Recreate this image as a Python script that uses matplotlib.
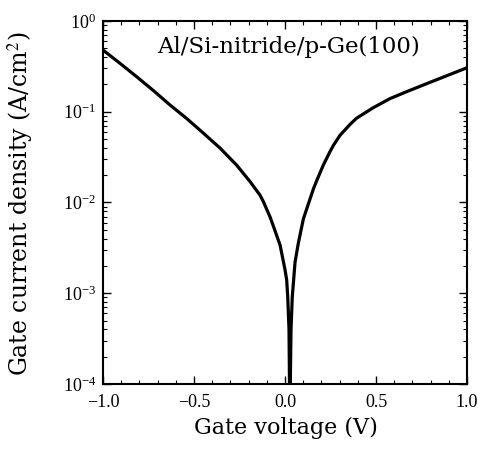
import matplotlib
matplotlib.use("Agg")
import matplotlib.pyplot as plt
import numpy as np
from matplotlib.ticker import LogLocator, MultipleLocator

# Gate voltage (V) and log10 of gate current density (A/cm^2)
v_neg = [-1.0, -0.907, -0.815, -0.724, -0.632, -0.540, -0.449, -0.357, -0.265,
         -0.192, -0.137, -0.119, -0.082, -0.064, -0.027, 0.0, 0.009, 0.015, 0.022, 0.026]
logj_neg = [-0.32, -0.466, -0.614, -0.765, -0.925, -1.075, -1.235, -1.40, -1.59,
            -1.77, -1.92, -1.99, -2.16, -2.26, -2.47, -2.74, -2.85, -3.04, -3.40, -4.3]
v_pos = [0.027, 0.033, 0.040, 0.055, 0.073, 0.101, 0.156, 0.174, 0.210,
         0.247, 0.266, 0.302, 0.357, 0.394, 0.485, 0.577, 0.668, 0.760, 0.852, 1.0]
logj_pos = [-4.3, -3.40, -3.04, -2.66, -2.45, -2.18, -1.85, -1.76, -1.59,
            -1.44, -1.37, -1.26, -1.14, -1.07, -0.955, -0.855, -0.779, -0.705, -0.632, -0.515]

plt.rcParams['font.family'] = ['Liberation Serif', 'DejaVu Serif']
plt.rcParams['mathtext.fontset'] = 'stix'

fig = plt.figure(figsize=(4.78, 4.49), dpi=100)
ax = fig.add_axes([0.2155, 0.1448, 0.7615, 0.8084])

volts = v_neg + v_pos
dens = 10 ** np.array(logj_neg + logj_pos)
ax.plot(volts, dens, color='black', lw=2.3, solid_joinstyle='round')

ax.set_yscale('log')
ax.set_xlim(-1.0, 1.0)
ax.set_ylim(1e-4, 1e0)
ax.xaxis.set_minor_locator(MultipleLocator(0.1))
ax.yaxis.set_major_locator(LogLocator(base=10, numticks=10))
ax.yaxis.set_minor_locator(LogLocator(base=10, subs=np.arange(2, 10), numticks=10))
ax.set_xticks([-1.0, -0.5, 0.0, 0.5, 1.0])
ax.set_xticklabels(['\u22121.0', '\u22120.5', '0.0', '0.5', '1.0'])

ax.tick_params(which='both', direction='in', top=True, right=True, labelsize=13)
ax.tick_params(which='major', length=6, width=1)
ax.tick_params(which='minor', length=3, width=0.8)
ax.tick_params(axis='y', pad=5)
ax.tick_params(axis='x', pad=7)
for s in ax.spines.values():
    s.set_linewidth(1.5)

lab_font = ['DejaVu Serif']
ax.set_xlabel('Gate voltage (V)', fontsize=16, family=lab_font)
ax.set_ylabel('Gate current density (A/cm$^2$)', fontsize=17, family=lab_font)
ax.xaxis.set_label_coords(0.503, -0.09)
ax.yaxis.set_label_coords(-0.185, 0.496)
ax.text(0.51, 0.928, 'Al/Si-nitride/p-Ge(100)', transform=ax.transAxes,
        fontsize=16.5, family=lab_font, ha='center', va='center')

fig.savefig('out.png', dpi=100)
